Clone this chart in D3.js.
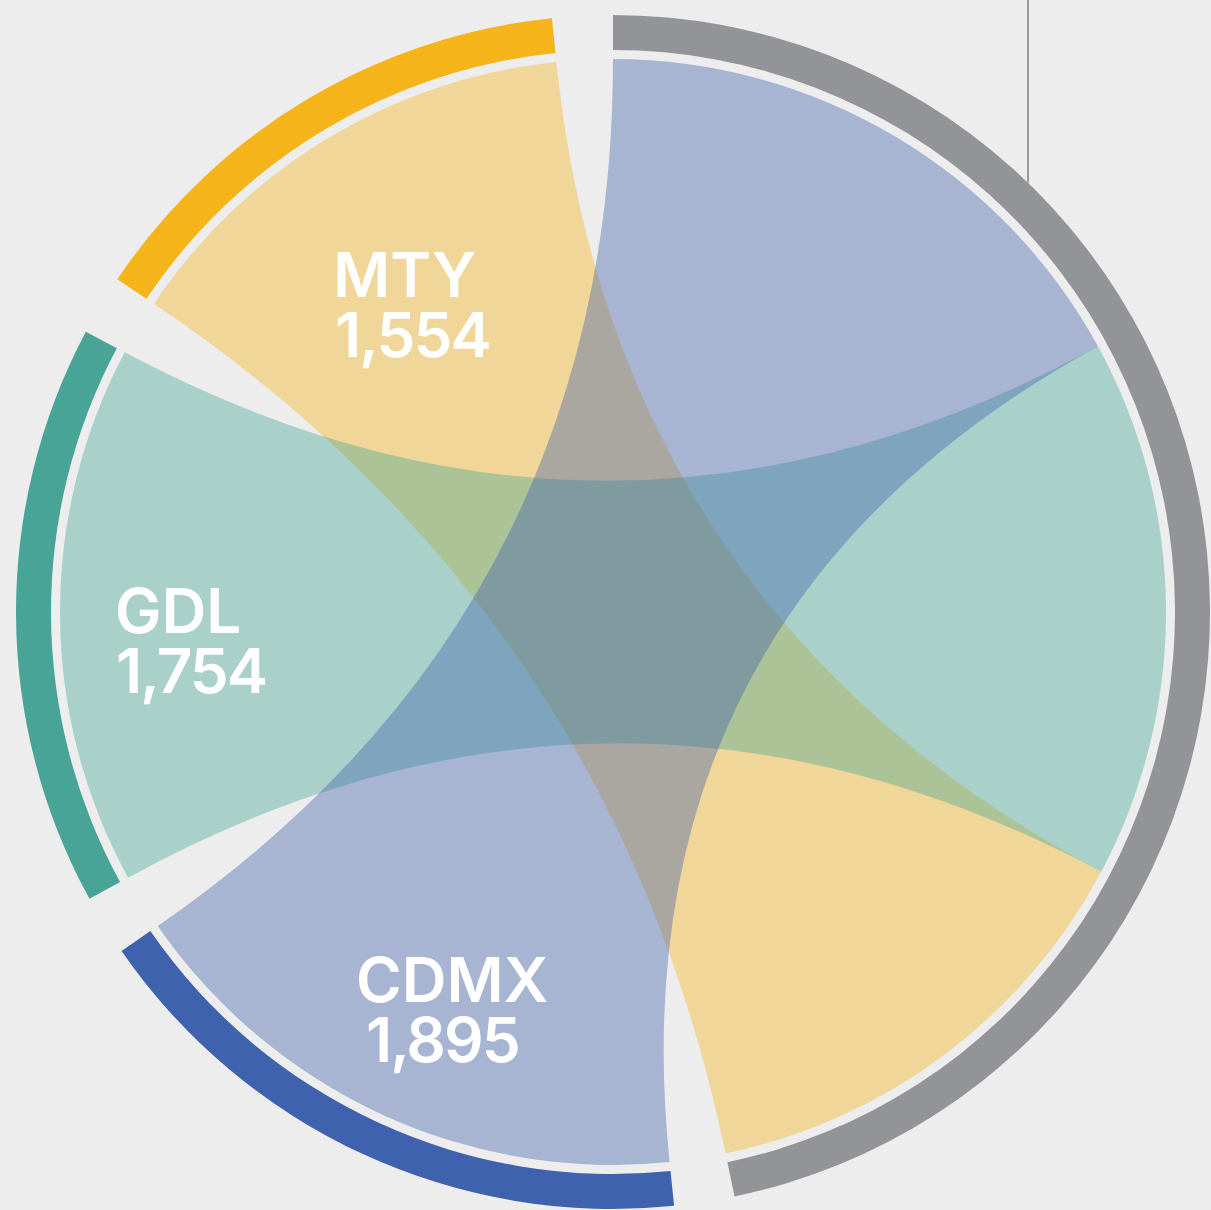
<!DOCTYPE html>
<html>
<head>
<meta charset="utf-8">
<script src="https://cdn.jsdelivr.net/npm/d3@7"></script>
<style>
  html, body { margin: 0; padding: 0; background: #ededed; }
  svg { display: block; }
</style>
</head>
<body>
<div id="chart"></div>
<script>
// groups around the circle, clockwise from 12 o'clock
const groups = ["Total", "CDMX", "GDL", "MTY"];
const cities = ["CDMX", "GDL", "MTY"];
const cityValues = [1895, 1754, 1554];
const cityLabels = ["1,895", "1,754", "1,554"];
const groupColors = ["#939497", "#3e62ad", "#47a497", "#f4b41a"];

const width = 1211;
const height = 1210;
const cx = 613, cy = 612;
const ribbonRadius = 553;
const arcInner = 562;
const arcOuter = 597;

// label anchors (x, baseline) for the name line and the number line
const labelPos = {
  CDMX: [[356, 1002], [366, 1062]],
  GDL: [[115, 633], [116, 693]],
  MTY: [[333, 297], [335, 357]]
};

// total row links to every city, each city links back to the total
const matrix = groups.map((g, i) =>
  groups.map((h, j) => {
    if (i === 0 && j > 0) return cityValues[j - 1];
    if (j === 0 && i > 0) return cityValues[i - 1];
    return 0;
  })
);

const chords = d3.chord().padAngle(0.1025)(matrix);

const svg = d3
  .select("#chart")
  .append("svg")
  .attr("width", width)
  .attr("height", height)
  .attr("viewBox", [0, 0, width, height]);

svg.append("rect").attr("width", width).attr("height", height).attr("fill", "#ededed");

const g = svg.append("g").attr("transform", `translate(${cx},${cy})`);

// ribbons, MTY at the bottom of the stack and CDMX on top
const ribbon = d3.ribbon().radius(ribbonRadius);
const ordered = chords.slice().sort((a, b) => b.target.index - a.target.index);

g.selectAll(".ribbon")
  .data(ordered)
  .enter()
  .append("path")
  .attr("class", "ribbon")
  .attr("d", ribbon)
  .attr("fill", (d) => groupColors[d.target.index])
  .attr("fill-opacity", 0.4);

// outer bands
const arc = d3.arc().innerRadius(arcInner).outerRadius(arcOuter);

g.selectAll(".band")
  .data(chords.groups)
  .enter()
  .append("path")
  .attr("class", "band")
  .attr("d", arc)
  .attr("fill", (d) => groupColors[d.index]);

// leader line at the top right
const lineX = 1028;
const lineEnd = cy - Math.sqrt(arcOuter * arcOuter - (lineX - cx) * (lineX - cx));
svg
  .append("line")
  .attr("x1", lineX)
  .attr("x2", lineX)
  .attr("y1", 0)
  .attr("y2", lineEnd)
  .attr("stroke", "#9a9a9c")
  .attr("stroke-width", 2);

// city labels: one text per city, name and number as two lines
cities.forEach((city, i) => {
  const pos = labelPos[city];
  const label = svg
    .append("text")
    .style("font-family", "Inter, 'Noto Sans', sans-serif")
    .style("font-weight", 600)
    .style("font-size", "62px")
    .style("fill", "#ffffff");

  label.append("tspan").attr("x", pos[0][0]).attr("y", pos[0][1]).text(city);

  label
    .append("tspan")
    .attr("x", pos[1][0])
    .attr("y", pos[1][1])
    .style("letter-spacing", "-2px")
    .text(cityLabels[i]);
});
</script>
</body>
</html>
